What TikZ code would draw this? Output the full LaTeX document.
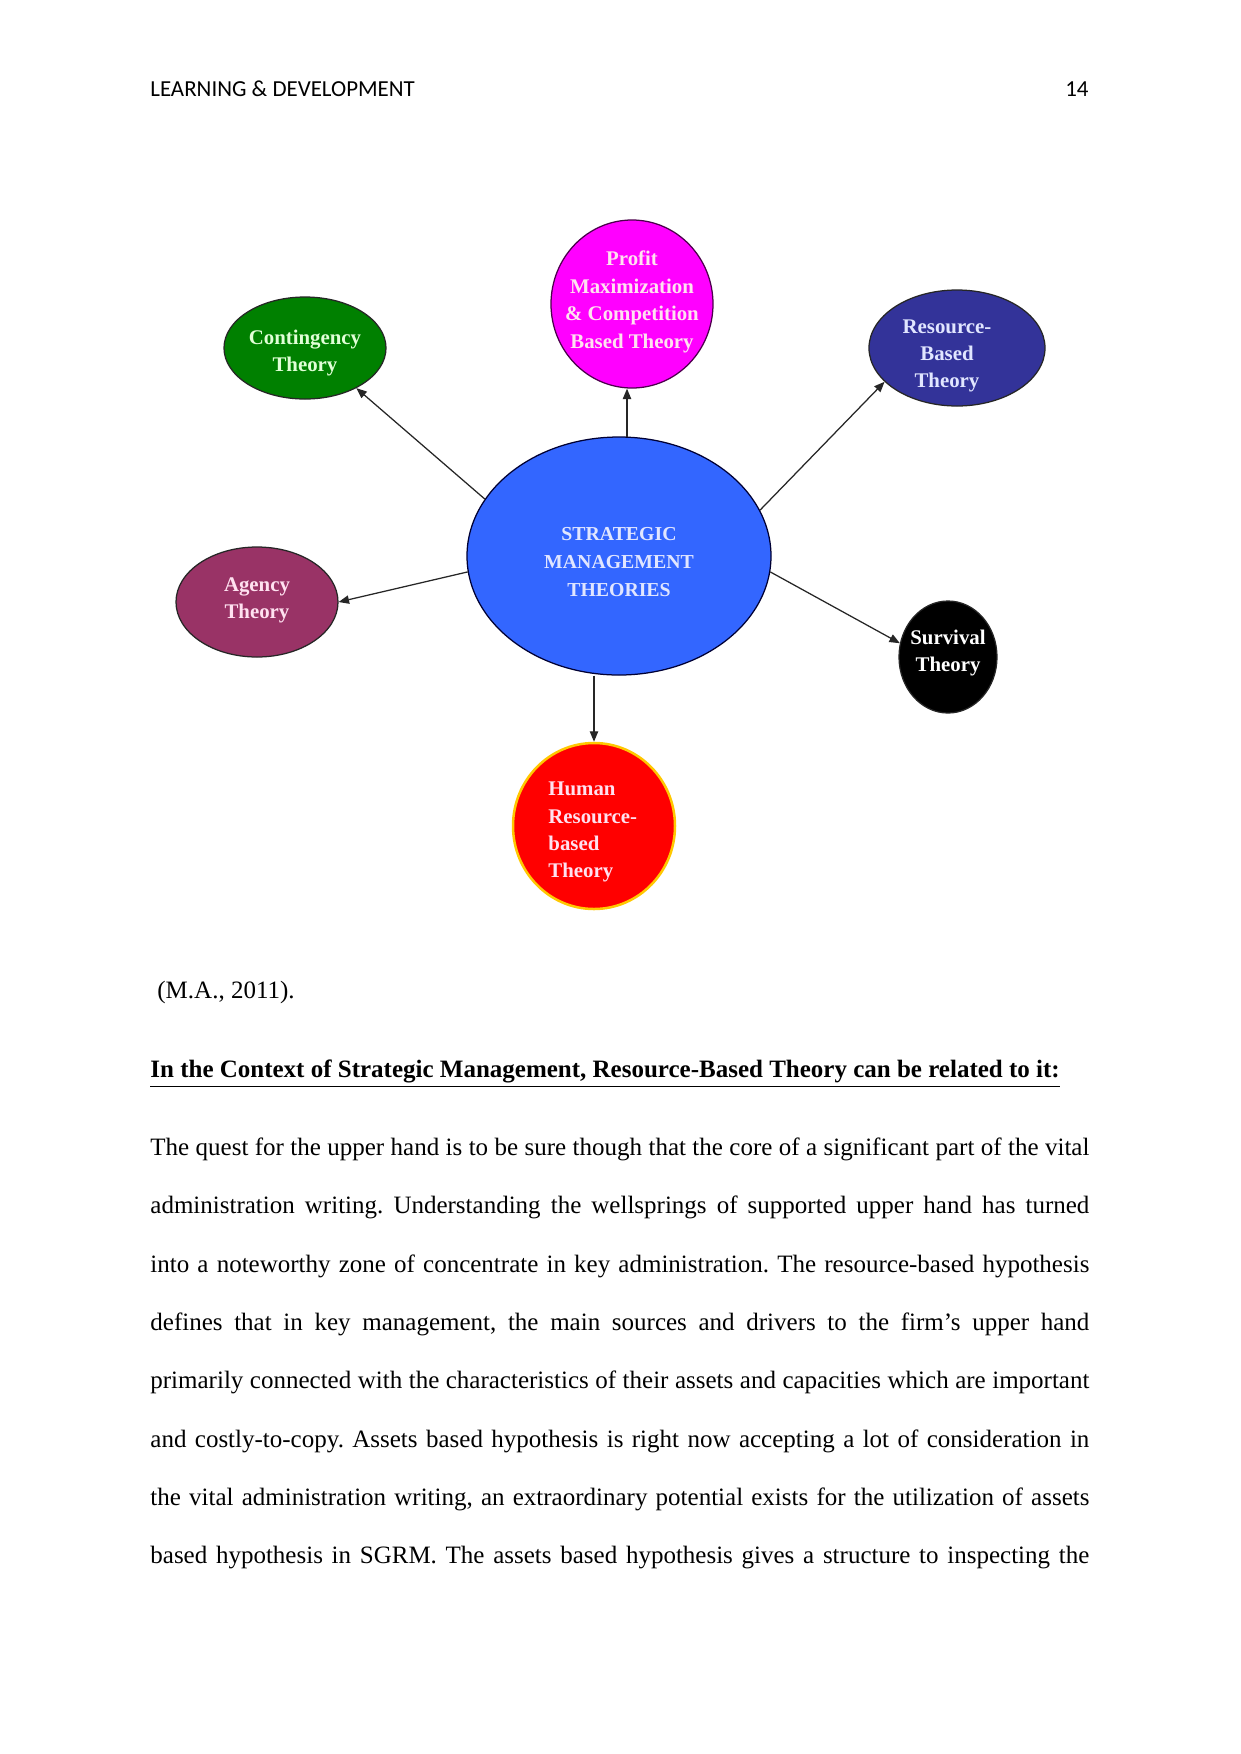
\documentclass[tikz,border=0pt]{standalone}
\usepackage{fontspec}
\setmainfont{Liberation Serif}
\newfontfamily\hdrfont{Carlito}
\usetikzlibrary{shapes.geometric,arrows.meta,calc}
\frenchspacing
\definecolor{contg}{RGB}{0,128,0}
\definecolor{profm}{RGB}{255,0,255}
\definecolor{resb}{RGB}{51,51,153}
\definecolor{centb}{RGB}{51,102,255}
\definecolor{agen}{RGB}{153,51,102}
\definecolor{humr}{RGB}{255,0,0}
\definecolor{humo}{RGB}{255,200,0}
\definecolor{txtgreen}{RGB}{225,255,215}
\definecolor{txtpink}{RGB}{255,225,240}
\definecolor{txtblue}{RGB}{225,230,255}
\tikzset{
  bubble/.style={ellipse, draw=black!85, line width=0.6pt, inner sep=0pt},
  btext/.style={align=center, font=\fontsize{10}{13}\selectfont\bfseries, text=white},
  conn/.style={draw=black!85, line width=0.6pt, -{Triangle[length=5pt,width=4pt]}},
  para/.style={anchor=base west, inner sep=0pt, font=\fontsize{12}{14}\selectfont},
}
\newcommand{\pline}[1]{\makebox[450.7pt][s]{#1}}
\begin{document}
\begin{tikzpicture}[x=0.48pt,y=-0.48pt]
\useasboundingbox[fill=white] (0,0) rectangle (1241,1754);

% header
\node[anchor=base west, inner sep=0pt, font=\hdrfont\fontsize{11}{13}\selectfont] (hdr) at (150,96) {LEARNING \& DEVELOPMENT};
\node[anchor=base east, inner sep=0pt, font=\hdrfont\fontsize{11}{13}\selectfont] (pg) at (1089,96) {14};

% bubbles
\node[bubble, fill=centb, draw=black!80!blue, minimum width=145.92pt, minimum height=114.24pt] (c) at (619,556) {};
\node[bubble, fill=contg, minimum width=77.76pt, minimum height=48.96pt] (cont) at (305,348) {};
\node[bubble, fill=profm, draw=black!70!profm, minimum width=77.76pt, minimum height=80.64pt] (prof) at (632,304) {};
\node[bubble, fill=resb, minimum width=84.48pt, minimum height=55.68pt] (res) at (957,348) {};
\node[bubble, fill=agen, minimum width=77.76pt, minimum height=52.8pt] (agc) at (257,602) {};
\node[bubble, fill=black, minimum width=47.04pt, minimum height=53.76pt] (surv) at (948,657) {};
\node[bubble, fill=humr, draw=humo, line width=1.2pt, minimum width=77.76pt, minimum height=79.68pt] (hum) at (594,826) {};

% texts
\node[btext, font=\fontsize{9.5}{13.4}\selectfont\bfseries, text=txtblue] (ct) at (619,562) {STRATEGIC\\MANAGEMENT\\THEORIES};
\node[btext, text=txtgreen] (contt) at (305,353) {Contingency\\Theory};
\node[btext, font=\fontsize{10}{13.3}\selectfont\bfseries, text=txtpink] (proft) at (632,302) {Profit\\Maximization\\\& Competition\\Based Theory};
\node[btext, font=\fontsize{10}{12.9}\selectfont\bfseries, text=txtblue] (rest) at (947,356) {Resource-\\Based\\Theory};
\node[btext, text=txtpink] (agct) at (257,600) {Agency\\Theory};
\node[btext] (survt) at (948,653) {Survival\\Theory};
\node[btext, align=left, anchor=west, inner sep=0pt, font=\fontsize{10}{13}\selectfont\bfseries, text=txtpink] (humt) at (548,832) {Human\\Resource-\\based\\Theory};

% connectors
\draw[conn] (c.157) -- (cont.-38);
\draw[conn] ($(c.north)+(8,1)$) -- ($(prof.south)+(-5,0)$);
\draw[conn] (c.18.6) -- (res.205);
\draw[conn] (c.186) -- (agc.east);
\draw[conn] (c.-6) -- (surv.164);
\draw[conn] (c.south -| hum.north) -- (hum.north);

% text below
\node[para] (cite) at (157,998.5) {(M.A., 2011).};
\node[para, font=\fontsize{12}{14}\selectfont\bfseries] (head) at (150,1077.5) {\underline{In the Context of Strategic Management, Resource-Based Theory can be related to it:}};
\node[para] (l1) at (150,1155.5) {\pline{The quest for the upper hand is to be sure though that the core of a significant part of the vital}};
\node[para] (l2) at (150,1213.8) {\pline{administration writing. Understanding the wellsprings of supported upper hand has turned}};
\node[para] (l3) at (150,1272.1) {\pline{into a noteworthy zone of concentrate in key administration. The resource-based hypothesis}};
\node[para] (l4) at (150,1330.4) {\pline{defines that in key management, the main sources and drivers to the firm’s upper hand}};
\node[para] (l5) at (150,1388.7) {\pline{primarily connected with the characteristics of their assets and capacities which are important}};
\node[para] (l6) at (150,1447) {\pline{and costly-to-copy. Assets based hypothesis is right now accepting a lot of consideration in}};
\node[para] (l7) at (150,1505.3) {\pline{the vital administration writing, an extraordinary potential exists for the utilization of assets}};
\node[para] (l8) at (150,1563.6) {\pline{based hypothesis in SGRM. The assets based hypothesis gives a structure to inspecting the}};
\end{tikzpicture}
\end{document}
